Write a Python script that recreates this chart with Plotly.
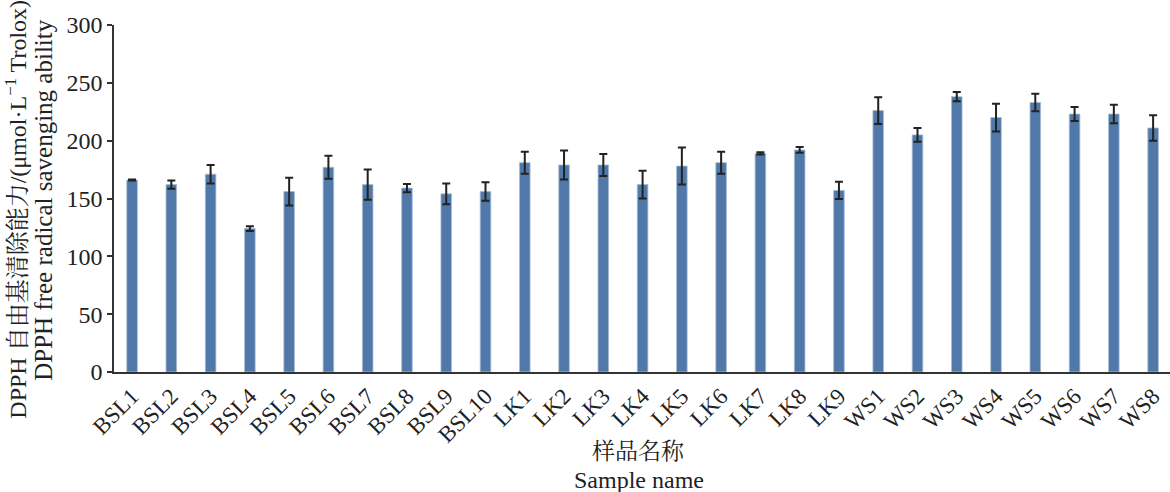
import plotly.graph_objects as go

categories = ["BSL1", "BSL2", "BSL3", "BSL4", "BSL5", "BSL6", "BSL7", "BSL8", "BSL9", "BSL10",
              "LK1", "LK2", "LK3", "LK4", "LK5", "LK6", "LK7", "LK8", "LK9",
              "WS1", "WS2", "WS3", "WS4", "WS5", "WS6", "WS7", "WS8"]
values = [166, 162, 171, 124, 156, 177, 162, 159, 154, 156,
          181, 179, 179, 162, 178, 181, 189, 192, 157,
          226, 205, 238, 220, 233, 223, 223, 211]
errors = [0.5, 3.5, 8, 2, 12, 10, 13, 3.5, 9, 8,
          9.5, 12.5, 9.5, 12, 16, 9.5, 1, 2.5, 7.5,
          11.5, 6, 4, 12, 7.5, 6, 8, 11]
y_ticks = [0, 50, 100, 150, 200, 250, 300]

FONT = "Liberation Serif, Noto Serif CJK SC, Noto Sans CJK SC, serif"
AXIS = "#333333"
TXT = "#222222"

fig = go.Figure()
fig.add_trace(go.Bar(
    x=categories, y=values,
    width=0.27,
    marker=dict(color="#5079a9", line=dict(color="#a9bdd6", width=0.8)),
    error_y=dict(type="data", array=errors, visible=True,
                 color=TXT, thickness=2, width=4),
))

fig.update_layout(
    width=1170, height=492,
    margin=dict(l=114, r=0, t=25, b=120),
    paper_bgcolor="white", plot_bgcolor="white",
    font=dict(family=FONT, size=24, color=TXT),
    showlegend=False,
)
fig.update_xaxes(
    type="category", range=[-0.46, 26.43],
    showline=True, linecolor=AXIS, linewidth=1.5,
    ticks="", tickangle=-45, showgrid=False,
    tickfont=dict(family=FONT, size=23, color=TXT),
    automargin=False,
)
fig.update_yaxes(
    range=[0, 300], tickvals=y_ticks,
    showline=True, linecolor=AXIS, linewidth=1.5,
    ticks="outside", ticklen=5, tickcolor=AXIS, tickwidth=1.5,
    showgrid=False, zeroline=False,
    tickfont=dict(family=FONT, size=24, color=TXT),
    automargin=False,
)

fig.add_annotation(
    text="DPPH 自由基清除能力/(μmol·L<sup>−1</sup> Trolox)",
    xref="paper", yref="paper", x=-0.093, y=0.47,
    xanchor="center", yanchor="middle", textangle=-90, showarrow=False,
    font=dict(family=FONT, size=24, color=TXT),
)
fig.add_annotation(
    text="DPPH free radical savenging ability",
    xref="paper", yref="paper", x=-0.067, y=0.497,
    xanchor="center", yanchor="middle", textangle=-90, showarrow=False,
    font=dict(family=FONT, size=25, color=TXT),
)
fig.add_annotation(
    text="样品名称",
    xref="paper", yref="paper", x=0.497, y=-0.228,
    xanchor="center", yanchor="middle", showarrow=False,
    font=dict(family=FONT, size=23, color=TXT),
)
fig.add_annotation(
    text="Sample name",
    xref="paper", yref="paper", x=0.497, y=-0.31,
    xanchor="center", yanchor="middle", showarrow=False,
    font=dict(family=FONT, size=24, color=TXT),
)

fig.write_html("out.html")
